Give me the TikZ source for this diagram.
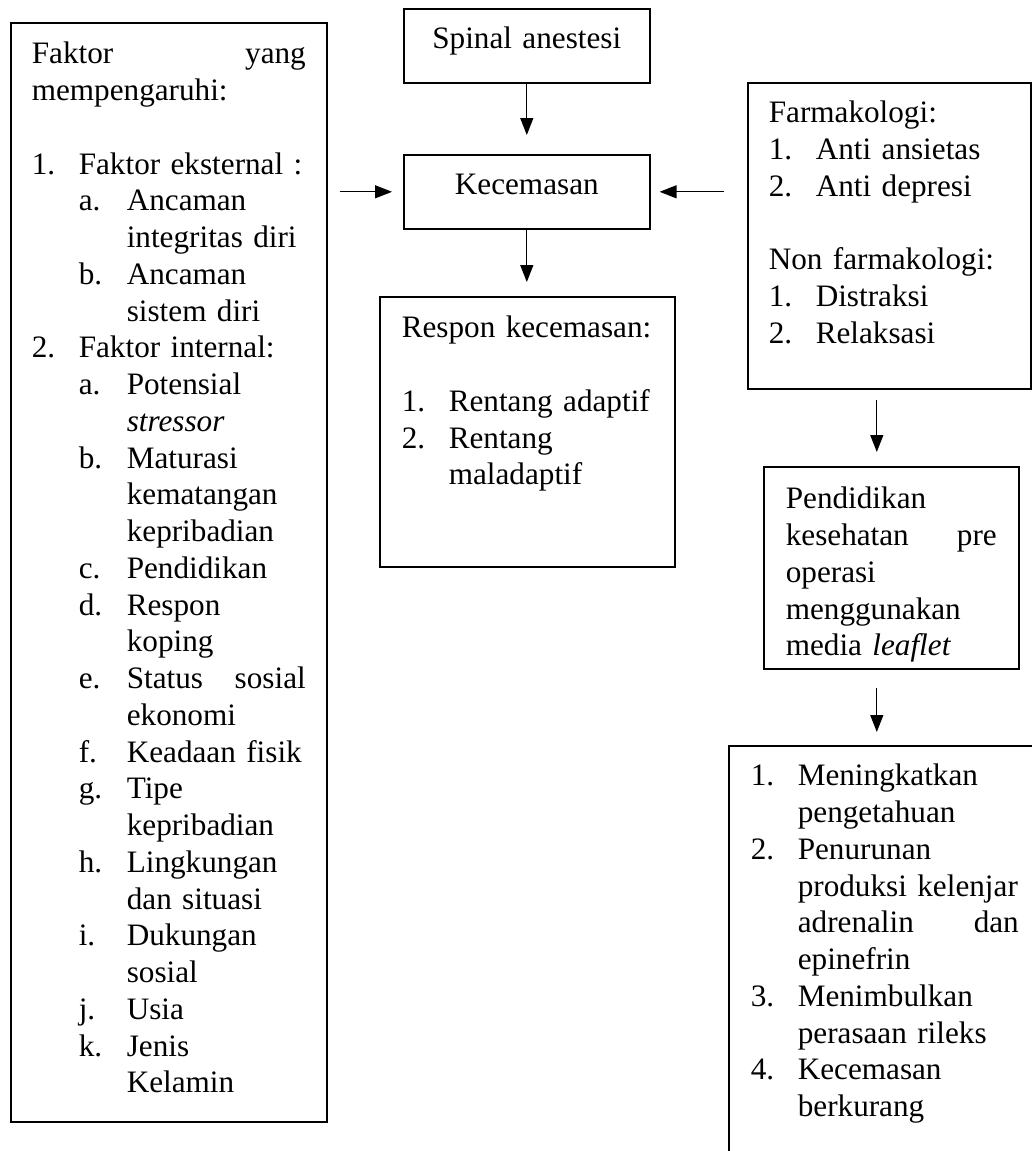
\documentclass[tikz,border=0pt]{standalone}
\usepackage{fontspec}
\setmainfont{Liberation Serif}
\usetikzlibrary{arrows.meta}
\newcommand{\itemone}[1]{\makebox[23.5pt][l]{#1}}
\newcommand{\itemtwo}[1]{\hspace*{23.5pt}\makebox[24pt][l]{#1}}
\newcommand{\contone}{\hspace*{23.5pt}}
\newcommand{\conttwo}{\hspace*{47.5pt}}
\begin{document}
\begin{tikzpicture}[x=0.5pt,y=-0.5pt,box/.style={draw=black,line width=0.8pt,anchor=north west,inner ysep=0pt,inner xsep=11pt,align=left,font=\fontsize{15.6pt}{18.375pt}\selectfont},arrow/.style={line width=0.65pt,-{Triangle[length=8.5pt,width=6.5pt]}}]
\path[use as bounding box,fill=white] (0,0) rectangle (1032,1151);
\clip (0,0) rectangle (1032,1151);
\node[box,inner xsep=10.5pt,text width=137pt,text height=20.5pt,text depth=529pt] (faktor) at (10,22) {Faktor\hfill yang\\
mempengaruhi:\\[\baselineskip]
\itemone{1.}Faktor eksternal :\\
\itemtwo{a.}Ancaman\\
\conttwo integritas diri\\
\itemtwo{b.}Ancaman\\
\conttwo sistem diri\\
\itemone{2.}Faktor internal:\\
\itemtwo{a.}Potensial\\
\conttwo\textit{stressor}\\
\itemtwo{b.}Maturasi\\
\conttwo kematangan\\
\conttwo kepribadian\\
\itemtwo{c.}Pendidikan\\
\itemtwo{d.}Respon\\
\conttwo koping\\
\itemtwo{e.}Status\hfill sosial\\
\conttwo ekonomi\\
\itemtwo{f.}Keadaan fisik\\
\itemtwo{g.}Tipe\\
\conttwo kepribadian\\
\itemtwo{h.}Lingkungan\\
\conttwo dan situasi\\
\itemtwo{i.}Dukungan\\
\conttwo sosial\\
\itemtwo{j.}Usia\\
\itemtwo{k.}Jenis\\
\conttwo Kelamin};
\node[box,align=center,text width=101pt,text height=20pt,text depth=17pt] (spinal) at (403,8) {Spinal anestesi};
\node[box,align=center,text width=101pt,text height=20pt,text depth=17pt] (kec) at (403,154) {Kecemasan};
\node[box,text width=125.5pt,text height=20.5pt,text depth=114.5pt] (respon) at (379,296) {Respon kecemasan:\\[\baselineskip]
\itemone{1.}Rentang adaptif\\
\itemone{2.}Rentang\\
\contone maladaptif};
\node[box,inner xsep=10.5pt,text width=120.5pt,text height=20pt,text depth=133pt] (farm) at (747,82) {Farmakologi:\\
\itemone{1.}Anti ansietas\\
\itemone{2.}Anti depresi\\[\baselineskip]
Non farmakologi:\\
\itemone{1.}Distraksi\\
\itemone{2.}Relaksasi};
\node[box,text width=105.5pt,text height=21pt,text depth=80pt] (pend) at (763,466) {Pendidikan\\
kesehatan\hfill pre\\
operasi\\
menggunakan\\
media \textit{leaflet}};
\node[box,text width=134pt,text height=20pt,text depth=212pt] (hasil) at (728,745) {\itemone{1.}Meningkatkan\\
\contone pengetahuan\\
\itemone{2.}Penurunan\\
\contone produksi kelenjar\\
\contone adrenalin\hfill dan\\
\contone epinefrin\\
\itemone{3.}Menimbulkan\\
\contone perasaan rileks\\
\itemone{4.}Kecemasan\\
\contone berkurang};
\draw[arrow,shorten >=9.5pt] (spinal.south) -- (spinal.south |- kec.north);
\draw[arrow,shorten >=7pt] (kec.south) -- (kec.south |- respon.north);
\draw[arrow,shorten <=6pt,shorten >=5.5pt] (kec.west -| faktor.east) -- (kec.west);
\draw[arrow,shorten <=11.5pt,shorten >=4.5pt] (kec.east -| farm.west) -- (kec.east);
\draw[arrow,shorten <=5pt,shorten >=7pt] ([xshift=-6.25pt]farm.south) -- ([xshift=-6.25pt]farm.south |- pend.north);
\draw[arrow,shorten <=9pt,shorten >=6.5pt] ([xshift=-7.25pt]pend.south) -- ([xshift=-7.25pt]pend.south |- hasil.north);
\end{tikzpicture}
\end{document}
